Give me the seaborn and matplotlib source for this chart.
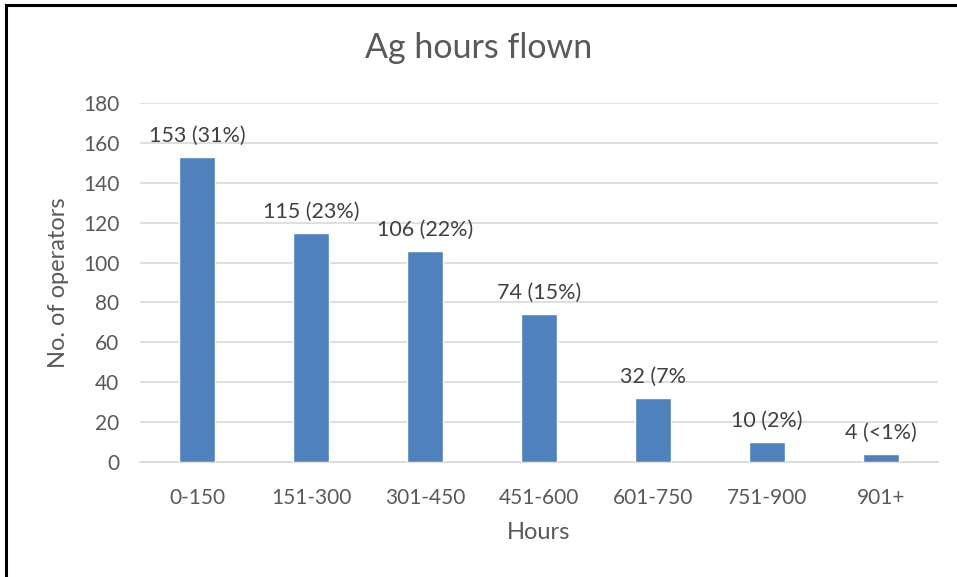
import matplotlib
matplotlib.use("Agg")
import matplotlib.pyplot as plt
import seaborn as sns
import pandas as pd
from matplotlib.patches import Rectangle

categories = ["0-150", "151-300", "301-450", "451-600", "601-750", "751-900", "901+"]
values = [153, 115, 106, 74, 32, 10, 4]
bar_labels = ["153 (31%)", "115 (23%)", "106 (22%)", "74 (15%)", "32 (7%", "10 (2%)", "4 (<1%)"]
y_ticks = [0, 20, 40, 60, 80, 100, 120, 140, 160, 180]

df = pd.DataFrame({"Hours": categories, "Operators": values})

sns.set_theme(style="white")
plt.rcParams["font.family"] = ["Lato", "DejaVu Sans"]

fig = plt.figure(figsize=(9.57, 5.77), dpi=100)
ax = fig.add_axes([140 / 957, 1 - 462 / 577, (938 - 140) / 957, (462 - 103) / 577])

sns.barplot(data=df, x="Hours", y="Operators", color="#4F81BD", width=0.315,
            saturation=1, ax=ax, zorder=3)

ax.set_ylim(0, 180)
ax.set_xlim(-0.5, len(categories) - 0.5)
ax.set_yticks(y_ticks)
ax.yaxis.grid(True, color="#D9D9D9", linewidth=1.2, zorder=0)
ax.set_axisbelow(True)
for s in ["top", "right", "left"]:
    ax.spines[s].set_visible(False)
ax.spines["bottom"].set_color("#D9D9D9")
ax.spines["bottom"].set_linewidth(1.2)
ax.tick_params(axis="both", length=0, labelsize=15, colors="#595959")
ax.tick_params(axis="x", pad=19)
ax.tick_params(axis="y", pad=15)

ax.set_xlabel("Hours", fontsize=17, color="#595959", labelpad=10)
ax.set_ylabel("No. of operators", fontsize=17, color="#595959", labelpad=10)

for i, (v, lab) in enumerate(zip(values, bar_labels)):
    ax.annotate(lab, (i, v), xytext=(0, 8), textcoords="offset points",
                ha="center", va="bottom", fontsize=15.5, color="#404040")

fig.text(0.5, 1 - 48 / 577, "Ag hours flown", ha="center", va="center",
         fontsize=24.5, color="#595959")

fig.patches.append(Rectangle((6 / 957, -0.1), 1.2, 1.1 - 5 / 577, transform=fig.transFigure,
                             fill=False, edgecolor="black", linewidth=2.2))

fig.savefig("out.png", dpi=100, facecolor="white")
